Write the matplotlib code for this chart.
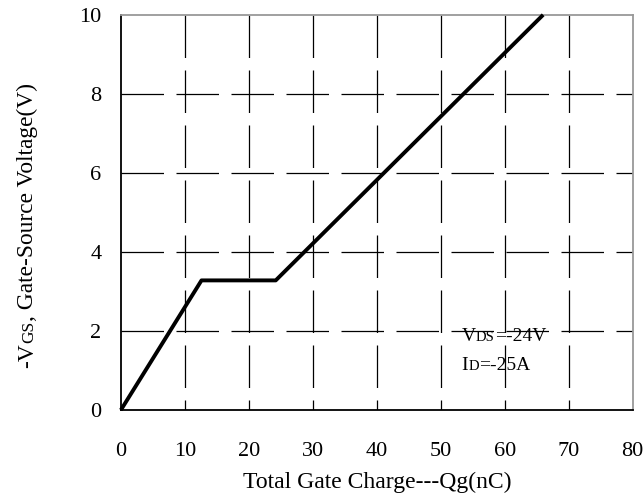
import matplotlib
matplotlib.use('Agg')
import matplotlib.pyplot as plt
from matplotlib.transforms import offset_copy

plt.rcParams['font.family'] = ['Liberation Serif', 'DejaVu Serif']

# gate charge curve (Qg in nC, -VGS in V)
qg = [0, 12.6, 24.2, 66.0]
vgs = [0, 3.28, 3.28, 10.0]

x_ticks = [0, 10, 20, 30, 40, 50, 60, 70, 80]
y_ticks = [0, 2, 4, 6, 8, 10]

fig = plt.figure(figsize=(6.43, 4.94), dpi=100)
ax = fig.add_axes([0.188, 0.170, 0.796, 0.800])
ax.set_xlim(0, 80)
ax.set_ylim(0, 10)

# dashed grid, drawn by hand so vertical dashes start at the top
dash = (0, (34, 10))
ax.vlines(x_ticks[1:-1], 10, 0, colors='black', linewidth=0.9, linestyles=[dash], zorder=1)
ax.hlines(y_ticks[1:-1], 0, 80, colors='black', linewidth=0.9, linestyles=[dash], zorder=1)

ax.plot(qg, vgs, color='black', linewidth=2.8, solid_capstyle='butt', zorder=3, clip_on=False)

for s in ax.spines.values():
    s.set_linewidth(1.3)
ax.spines['top'].set_color('#999999')
ax.spines['right'].set_color('#999999')

ax.set_xticks(x_ticks)
ax.set_yticks(y_ticks)
ax.tick_params(length=0, labelsize=16)
ax.tick_params(axis='x', pad=23)
ax.tick_params(axis='y', pad=14)

ax.set_xlabel('Total Gate Charge---Qg(nC)', fontsize=17, labelpad=8)


def seq_text(parts, x, y, rotation=0, transform=None):
    # place text pieces one after another, small caps sitting on the baseline
    renderer = fig.canvas.get_renderer()
    tr = transform
    for txt, size in parts:
        t = fig.text(x, y, txt, fontsize=size, rotation=rotation,
                     transform=tr, ha='left', va='baseline', rotation_mode='anchor')
        bb = t.get_window_extent(renderer)
        if rotation == 90:
            tr = offset_copy(tr, fig=fig, x=0, y=bb.height, units='dots')
        else:
            tr = offset_copy(tr, fig=fig, x=bb.width, y=0, units='dots')


seq_text([('-V', 16.8), ('GS', 12.5), (', Gate-Source Voltage(V)', 16.8)],
         0.052, 0.255, rotation=90, transform=fig.transFigure)

seq_text([('V', 14), ('DS', 10.5), ('=-24V', 14)], 0.718, 0.310,
         transform=fig.transFigure)
seq_text([('I', 14), ('D', 10.5), ('=-25A', 14)], 0.718, 0.251,
         transform=fig.transFigure)

fig.savefig('out.png', dpi=100, facecolor='white')
